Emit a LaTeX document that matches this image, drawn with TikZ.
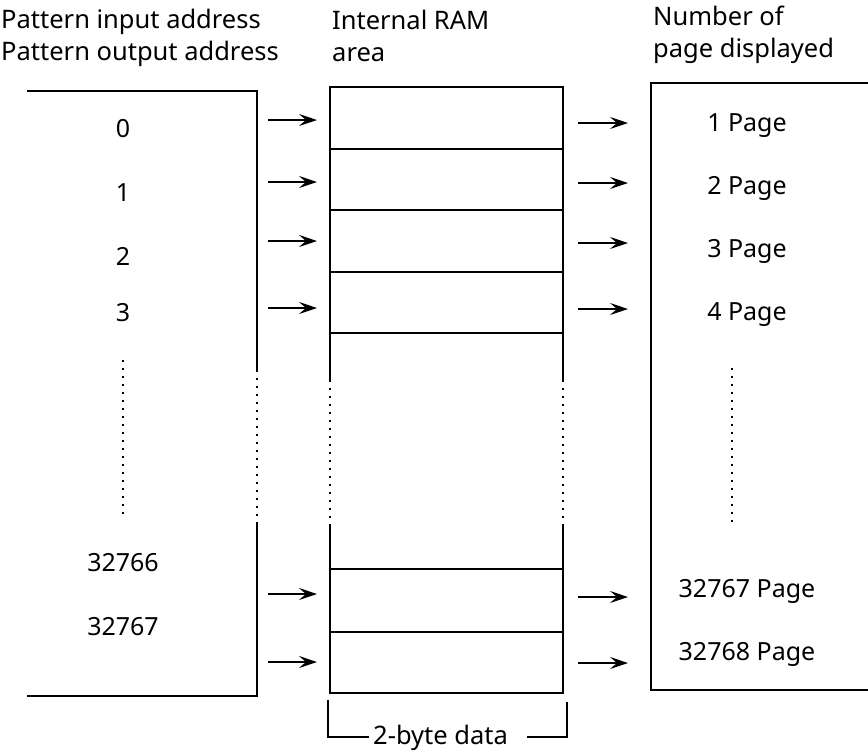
\documentclass[tikz,border=0pt]{standalone}
\usepackage{fontspec}
\setmainfont{Noto Sans}
\usetikzlibrary{arrows.meta}
\begin{document}
\begin{tikzpicture}[x=1pt,y=-1pt,
  line/.style={line width=1.5pt},
  dots/.style={line width=1.7pt, dash pattern=on 1.7pt off 6.3pt},
  arr/.style={line width=1.6pt,-{Stealth[length=18pt,width=12pt,inset=7pt]}},
  lbl/.style={font=\fontsize{25}{30}\selectfont, inner sep=0pt, anchor=base},
  hdr/.style={font=\fontsize{25.5}{30}\selectfont, inner sep=0pt, anchor=base west}]
\useasboundingbox[fill=white] (0,0) rectangle (868,753);
% headers
\node[hdr] (h1a) at (1,28) {Pattern input address};
\node[hdr] (h1b) at (1,60) {Pattern output address};
\node[hdr] (h2a) at (332,29) {Internal RAM};
\node[hdr] (h2b) at (332,61) {area};
\node[hdr] (h3a) at (653,25) {Number of};
\node[hdr] (h3b) at (653,57) {page displayed};
% left box
\draw[line] (27,91) -- (257,91) -- (257,370);
\draw[dots] (257,370) -- (257,522);
\draw[line] (257,522) -- (257,696) -- (27,696);
% middle box
\draw[line] (330,380) -- (330,87) -- (563,87) -- (563,380);
\foreach \yy in {149,210,272,333,569,632} \draw[line] (330,\yy) -- (563,\yy);
\draw[dots] (330,380) -- (330,525);
\draw[dots] (563,380) -- (563,525);
\draw[line] (330,525) -- (330,693) -- (563,693) -- (563,525);
% right box
\draw[line] (868,83) -- (651,83) -- (651,690) -- (868,690);
% left labels
\node[lbl] (a0) at (123,137) {0};
\node[lbl] (a1) at (123,201) {1};
\node[lbl] (a2) at (123,265) {2};
\node[lbl] (a3) at (123,321) {3};
\node[lbl] (a4) at (123,571) {32766};
\node[lbl] (a5) at (123,635) {32767};
\coordinate (ld1) at (123,360);
\coordinate (ld2) at (123,517);
\draw[dots] (ld1) -- (ld2);
% right labels
\node[lbl] (p1) at (747,131) {1 Page};
\node[lbl] (p2) at (747,194) {2 Page};
\node[lbl] (p3) at (747,257) {3 Page};
\node[lbl] (p4) at (747,320) {4 Page};
\node[lbl] (p5) at (747,597) {32767 Page};
\node[lbl] (p6) at (747,660) {32768 Page};
\coordinate (rd1) at (732,368);
\coordinate (rd2) at (732,523);
\draw[dots] (rd1) -- (rd2);
% arrows
\foreach \yy [count=\i] in {120,182,241,308,594,662}{
  \coordinate (ls\i) at (268,\yy);
  \coordinate (le\i) at (317,\yy);
  \draw[arr] (ls\i) -- (le\i);
}
\foreach \yy [count=\i] in {123,183,243,309,597,663}{
  \coordinate (rs\i) at (578,\yy);
  \coordinate (re\i) at (628,\yy);
  \draw[arr] (rs\i) -- (re\i);
}
% bracket
\node[hdr] (bt) at (373,744) {2-byte data};
\coordinate (bl) at (328,700);
\coordinate (br) at (567,702);
\draw[line] (bl) -- (bl |- 0,737) -- (369,737);
\draw[line] (527,737) -- (br |- 0,737) -- (br);
\end{tikzpicture}
\end{document}
